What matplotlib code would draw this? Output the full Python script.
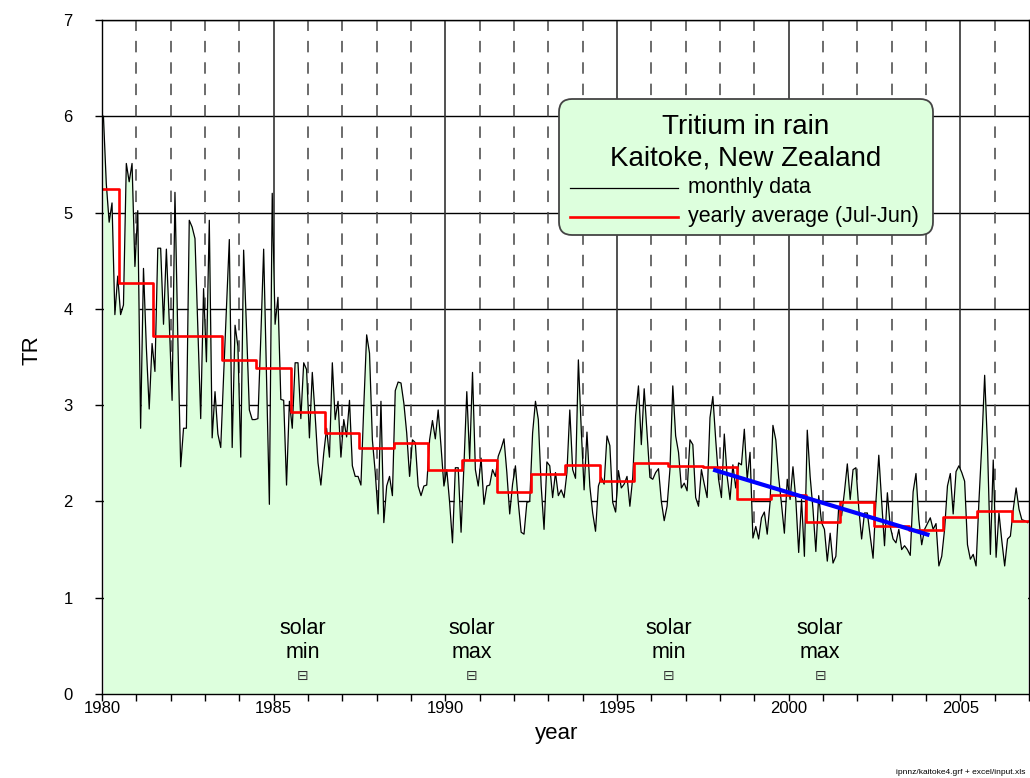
import numpy as np
import matplotlib
matplotlib.use('Agg')
import matplotlib.pyplot as plt
from matplotlib.patches import FancyBboxPatch
from matplotlib.lines import Line2D

plt.rcParams['font.family'] = ['Liberation Sans', 'DejaVu Sans']

# ---------------- data (tritium units, monthly, Jan..Dec) ----------------
tr_1980 = [6.00, 5.30, 4.90, 5.10, 3.94, 4.34, 3.94, 4.04, 5.51, 5.32, 5.51, 4.44]
tr_1981 = [5.02, 2.76, 4.42, 3.60, 2.96, 3.64, 3.35, 4.63, 4.63, 3.84, 4.62, 3.87]
tr_1982 = [3.05, 5.21, 3.70, 2.36, 2.76, 2.76, 4.92, 4.85, 4.73, 3.80, 2.86, 4.21]
tr_1983 = [3.45, 4.92, 2.66, 3.14, 2.70, 2.56, 3.30, 4.00, 4.72, 2.56, 3.83, 3.61]
tr_1984 = [2.46, 4.61, 3.80, 2.95, 2.85, 2.85, 2.86, 3.70, 4.62, 3.30, 1.97, 5.20]
tr_1985 = [3.84, 4.12, 3.06, 3.05, 2.17, 3.04, 2.76, 3.44, 3.44, 2.86, 3.44, 3.37]
tr_1986 = [2.66, 3.34, 2.89, 2.40, 2.17, 2.50, 2.76, 2.46, 3.44, 2.85, 3.04, 2.46]
tr_1987 = [2.85, 2.67, 3.05, 2.37, 2.26, 2.26, 2.17, 2.99, 3.73, 3.54, 2.64, 2.30]
tr_1988 = [1.87, 3.04, 1.78, 2.16, 2.26, 2.06, 3.15, 3.24, 3.23, 3.02, 2.71, 2.26]
tr_1989 = [2.64, 2.61, 2.16, 2.06, 2.16, 2.17, 2.64, 2.84, 2.65, 2.95, 2.57, 2.16]
tr_1990 = [2.33, 1.99, 1.57, 2.35, 2.35, 1.68, 2.37, 3.14, 2.44, 3.34, 2.33, 2.16]
tr_1991 = [2.45, 1.97, 2.16, 2.17, 2.33, 2.26, 2.47, 2.55, 2.65, 2.30, 1.87, 2.18]
tr_1992 = [2.37, 1.99, 1.68, 1.66, 1.99, 2.00, 2.71, 3.04, 2.85, 2.16, 1.71, 2.41]
tr_1993 = [2.37, 2.04, 2.30, 2.06, 2.12, 2.04, 2.30, 2.95, 2.33, 2.24, 3.47, 2.75]
tr_1994 = [2.12, 2.72, 2.16, 1.88, 1.69, 2.16, 2.25, 2.18, 2.68, 2.58, 1.99, 1.89]
tr_1995 = [2.32, 2.14, 2.18, 2.26, 1.95, 2.25, 2.89, 3.20, 2.59, 3.17, 2.71, 2.25]
tr_1996 = [2.23, 2.30, 2.34, 2.00, 1.80, 1.95, 2.33, 3.20, 2.68, 2.51, 2.14, 2.19]
tr_1997 = [2.11, 2.64, 2.59, 2.04, 1.95, 2.33, 2.18, 2.04, 2.87, 3.09, 2.64, 2.23]
tr_1998 = [2.04, 2.70, 2.26, 2.02, 2.38, 2.14, 2.40, 2.38, 2.75, 2.23, 2.51, 1.62]
tr_1999 = [1.74, 1.61, 1.83, 1.89, 1.66, 1.99, 2.79, 2.64, 2.25, 1.97, 1.67, 2.23]
tr_2000 = [2.02, 2.36, 2.02, 1.47, 2.02, 1.43, 2.74, 2.26, 1.92, 1.48, 2.06, 1.78]
tr_2001 = [1.71, 1.38, 1.67, 1.36, 1.43, 1.95, 1.85, 2.10, 2.39, 2.02, 2.33, 2.35]
tr_2002 = [1.93, 1.61, 1.88, 1.88, 1.64, 1.41, 2.00, 2.48, 2.00, 1.54, 2.09, 1.74]
tr_2003 = [1.61, 1.57, 1.71, 1.50, 1.54, 1.50, 1.44, 2.10, 2.29, 1.81, 1.55, 1.71]
tr_2004 = [1.77, 1.83, 1.71, 1.77, 1.33, 1.43, 1.71, 2.16, 2.29, 1.87, 2.31, 2.37]
tr_2005 = [2.30, 2.21, 1.55, 1.40, 1.45, 1.33, 2.00, 2.59, 3.31, 2.57, 1.45, 2.43]
tr_2006 = [1.42, 1.88, 1.59, 1.33, 1.61, 1.64, 1.92, 2.14, 1.92, 1.81, 1.80, 1.78]

# yearly averages (Jul-Jun), period start years
avg_period_start = [1979.5, 1980.5, 1981.5, 1982.5, 1983.5, 1984.5, 1985.5,
                    1986.5, 1987.5, 1988.5, 1989.5, 1990.5, 1991.5, 1992.5,
                    1993.5, 1994.5, 1995.5, 1996.5, 1997.5, 1998.5, 1999.5,
                    2000.5, 2001.5, 2002.5, 2003.5, 2004.5, 2005.5, 2006.5]
avg_tr = [5.25, 4.27, 3.72, 3.72, 3.47, 3.39, 2.93, 2.71, 2.56, 2.61, 2.33,
          2.43, 2.10, 2.28, 2.38, 2.21, 2.40, 2.37, 2.36, 2.03, 2.07, 1.79,
          1.99, 1.74, 1.70, 1.84, 1.90, 1.80]

# linear trend segment
trend_x = [1997.8, 2004.1]
trend_y = [2.33, 1.65]

# solar cycle labels
solar_x = [1985.85, 1990.77, 1996.5, 2000.92]
solar_lbl = ['solar\nmin', 'solar\nmax', 'solar\nmin', 'solar\nmax']

x_min, x_max = 1980, 2007
y_min, y_max = 0, 7

# ---------------- build series ----------------
monthly_tr = np.array(tr_1980 + tr_1981 + tr_1982 + tr_1983 + tr_1984 + tr_1985 +
                      tr_1986 + tr_1987 + tr_1988 + tr_1989 + tr_1990 + tr_1991 +
                      tr_1992 + tr_1993 + tr_1994 + tr_1995 + tr_1996 + tr_1997 +
                      tr_1998 + tr_1999 + tr_2000 + tr_2001 + tr_2002 + tr_2003 +
                      tr_2004 + tr_2005 + tr_2006)
month_t = 1980 + (np.arange(len(monthly_tr)) + 0.5) / 12.0

step_x = [max(s, x_min) for s in avg_period_start] + [x_max]
step_y = list(avg_tr) + [avg_tr[-1]]

# ---------------- figure ----------------
W, H = 1030, 778
fig = plt.figure(figsize=(W / 100, H / 100), dpi=100)
ax = fig.add_axes([102 / W, 84 / H, 927 / W, 674 / H])

# grid
for yv in range(1, 8):
    ax.axhline(yv, color='black', lw=1.0, zorder=0.5)
for xv in range(1981, 2007):
    if xv % 5 == 0:
        ax.axvline(xv, color='#333333', lw=1.2, zorder=0.5)
    else:
        ax.axvline(xv, color='#444444', lw=1.1, ls=(0, (7.5, 6.5)), zorder=0.5)

# data
ax.fill_between(month_t, 0, monthly_tr, color='#DDFFDD', lw=0, zorder=1)
ax.plot(month_t, monthly_tr, color='black', lw=0.9, zorder=2)
ax.step(step_x, step_y, where='post', color='#FF0000', lw=1.9, zorder=3)
ax.plot(trend_x, trend_y, color='#0000FF', lw=3.0, solid_capstyle='butt', zorder=4)

# solar annotations
for sx, lbl in zip(solar_x, solar_lbl):
    ax.text(sx, 0.555, lbl, ha='center', va='center', fontsize=15.5,
            linespacing=1.2, zorder=5)
    ax.text(sx, 0.19, '\u229F', ha='center', va='center', fontsize=10,
            family=['DejaVu Sans'], color='#333333', zorder=5)

ax.set_xlim(x_min, x_max)
ax.set_ylim(y_min, y_max)
ax.set_xticks(range(x_min, x_max + 1))
ax.set_xticklabels([str(y) if y % 5 == 0 else '' for y in range(x_min, x_max + 1)])
ax.set_yticks(range(0, 8))
ax.tick_params(axis='x', direction='out', length=5, width=1, labelsize=12, pad=0)
ax.tick_params(axis='y', direction='out', length=5, width=1, labelsize=12, pad=16)
for sp in ax.spines.values():
    sp.set_linewidth(1.0)
    sp.set_zorder(6)

ax.set_xlabel('year', fontsize=16)
ax.xaxis.label.set_va('center')
ax.xaxis.set_label_coords(0.49, -39 / 674)
ax.set_ylabel('TR', fontsize=16)
ax.yaxis.label.set_va('center')
ax.yaxis.set_label_coords(-70 / 927, 0.51)

# legend box (drawn in inches)
tr_in = fig.dpi_scale_trans
box = FancyBboxPatch((5.59, 7.78 - 2.35), 3.74, 1.36,
                     boxstyle='round,pad=0,rounding_size=0.13',
                     transform=tr_in, facecolor='#DDFFDD', edgecolor='#444444',
                     lw=1.3, zorder=7)
fig.add_artist(box)
fig.text(7.46, 7.78 - 1.267, 'Tritium in rain', transform=tr_in,
         ha='center', va='center', fontsize=20, zorder=8)
fig.text(7.46, 7.78 - 1.585, 'Kaitoke, New Zealand', transform=tr_in,
         ha='center', va='center', fontsize=20, zorder=8)
fig.add_artist(Line2D([5.70, 6.78], [7.78 - 1.875] * 2, transform=tr_in,
                      color='black', lw=0.9, zorder=8))
fig.add_artist(Line2D([5.70, 6.78], [7.78 - 2.165] * 2, transform=tr_in,
                      color='#FF0000', lw=1.9, zorder=8))
fig.text(6.88, 7.78 - 1.875, 'monthly data', transform=tr_in,
         ha='left', va='center', fontsize=15.5, zorder=8)
fig.text(6.88, 7.78 - 2.165, 'yearly average (Jul-Jun)', transform=tr_in,
         ha='left', va='center', fontsize=15.5, zorder=8)

fig.text(1025 / W, 1 - 773 / H, 'ipnnz/kaitoke4.grf + excel/input.xls',
         ha='right', va='center', fontsize=6)

fig.savefig('out.png', dpi=100)
